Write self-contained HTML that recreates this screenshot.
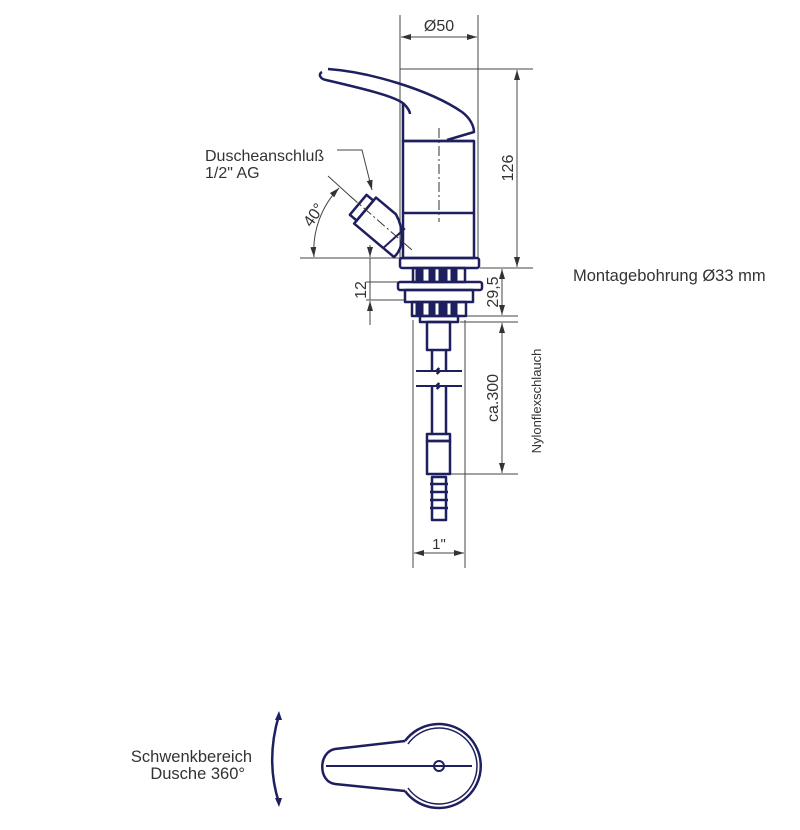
<!DOCTYPE html>
<html><head><meta charset="utf-8"><style>
html,body{margin:0;padding:0;background:#fff;}
svg{display:block;}
text{font-family:"Liberation Sans",sans-serif;fill:#333;}
</style></head><body>
<svg width="800" height="830" viewBox="0 0 800 830" xmlns="http://www.w3.org/2000/svg">
<defs>
<marker id="a" viewBox="0 0 10 6" refX="10" refY="3" markerWidth="10" markerHeight="6" orient="auto-start-reverse" markerUnits="userSpaceOnUse"><path d="M0,0 L10,3 L0,6 z" fill="#333"/></marker>
</defs>
<g stroke="#444" stroke-width="1" fill="none">
<line x1="400" y1="15" x2="400" y2="258"/><line x1="478" y1="15" x2="478" y2="258"/>
<line x1="401" y1="37" x2="477" y2="37" marker-start="url(#a)" marker-end="url(#a)"/>
<line x1="400" y1="69" x2="533" y2="69"/><line x1="480" y1="268" x2="533" y2="268"/>
<line x1="517" y1="70" x2="517" y2="267" marker-start="url(#a)" marker-end="url(#a)"/>
<line x1="466" y1="316" x2="518" y2="316"/><line x1="460" y1="322" x2="518" y2="322"/>
<line x1="502" y1="269" x2="502" y2="315" marker-start="url(#a)" marker-end="url(#a)"/>
<line x1="502" y1="323" x2="502" y2="473" marker-start="url(#a)" marker-end="url(#a)"/>
<line x1="450" y1="474" x2="518" y2="474"/>
<line x1="300" y1="258" x2="400" y2="258"/>
<line x1="366" y1="282" x2="400" y2="282"/><line x1="366" y1="300" x2="405" y2="300"/>
<line x1="370" y1="245" x2="370" y2="257" marker-end="url(#a)"/>
<line x1="370" y1="301" x2="370" y2="325" marker-start="url(#a)"/>
<line x1="370" y1="258" x2="370" y2="300"/>
<line x1="413" y1="320" x2="413" y2="568"/><line x1="465" y1="320" x2="465" y2="568"/>
<line x1="414" y1="553" x2="464" y2="553" marker-start="url(#a)" marker-end="url(#a)"/>
<line x1="328" y1="176" x2="350" y2="196"/>
<path d="M314,257 A90,90 0 0 1 339,188" marker-start="url(#a)" marker-end="url(#a)"/>
<polyline points="337,150 362,150 372,190" marker-end="url(#a)"/>
</g>
<g stroke="#1e1f5e" stroke-width="2.5" fill="none" stroke-linejoin="round">
<path d="M328,69 C370,72 430,90 462,112 C470,118 474,126 474,132 L447,140"/>
<path d="M322,72 C318,74 320,79 326,80 C360,88 395,96 404,104 C408,108 410,112 410,114"/>
<path d="M403,104 L403,141 L474,141"/>
<rect x="403" y="141" width="71" height="117"/>
<line x1="403" y1="213" x2="474" y2="213"/>
<rect x="400" y="258" width="79" height="10" rx="2"/>
<rect x="413" y="268" width="52" height="14"/>
<rect x="398" y="282" width="84" height="8" rx="2"/>
<rect x="405" y="290" width="68" height="12"/>
<rect x="412" y="302" width="54" height="14"/>
<rect x="420" y="316" width="38" height="6"/>
<rect x="427" y="322" width="23" height="28"/>
<line x1="432" y1="350" x2="432" y2="434"/><line x1="446" y1="350" x2="446" y2="434"/>
<rect x="427" y="434" width="23" height="7"/>
<rect x="427" y="441" width="23" height="33"/>
<path d="M432,477 h14 v43 h-14 z M430,484 h18 M430,492 h18 M430,500 h18 M430,508 h18"/>
<g transform="translate(362,208) rotate(40)">
<rect x="-5" y="-13" width="9" height="26"/>
<path d="M4,-17 L30,-17 C48,-10 58,5 56,17 L4,17 Z"/>
<line x1="46" y1="-12" x2="42" y2="17" stroke-width="2"/>
</g>
</g>
<g stroke="#1e1f5e" stroke-width="3" fill="#1e1f5e">
<rect x="417" y="270" width="5" height="11"/><rect x="430" y="270" width="4" height="11"/><rect x="440" y="270" width="6" height="11"/><rect x="452" y="270" width="4" height="11"/>
<rect x="417" y="304" width="5" height="11"/><rect x="430" y="304" width="4" height="11"/><rect x="440" y="304" width="6" height="11"/><rect x="452" y="304" width="4" height="11"/>
</g>
<g stroke="#fff" stroke-width="14" fill="none"><line x1="426" y1="378" x2="452" y2="378"/></g>
<g stroke="#1e1f5e" stroke-width="2" fill="none">
<path d="M416,371 H436 l3,-3 l-2,6 l3,-3 H462"/>
<path d="M416,386 H436 l3,-3 l-2,6 l3,-3 H462"/>
</g>
<g stroke="#333" stroke-width="1" fill="none" stroke-dasharray="10,3,2,3">
<line x1="439" y1="128" x2="439" y2="222"/>
<line x1="350" y1="196" x2="412" y2="250"/>
</g>
<text x="205" y="161" font-size="16">Duscheanschluß</text>
<text x="205" y="178" font-size="16">1/2" AG</text>
<text x="573" y="281" font-size="16.5">Montagebohrung Ø33 mm</text>
<text x="439" y="31" font-size="16" text-anchor="middle">Ø50</text>
<text font-size="16" transform="translate(513,168) rotate(-90)" text-anchor="middle">126</text>
<text font-size="16" transform="translate(498,292) rotate(-90)" text-anchor="middle">29,5</text>
<text font-size="16" transform="translate(498,398) rotate(-90)" text-anchor="middle">ca.300</text>
<text font-size="16" transform="translate(366,290) rotate(-90)" text-anchor="middle">12</text>
<text font-size="16" transform="translate(318,218) rotate(-55)" text-anchor="middle">40°</text>
<text font-size="13" transform="translate(541,401) rotate(-90)" text-anchor="middle">Nylonflexschlauch</text>
<text x="439" y="549" font-size="15" text-anchor="middle">1"</text>
<text x="252" y="762" font-size="16.5" text-anchor="end">Schwenkbereich</text>
<text x="245" y="779" font-size="16.5" text-anchor="end">Dusche 360°</text>
<g stroke="#1e1f5e" stroke-width="2.5" fill="none">
<path d="M279,715 C270,745 270,775 279,803"/>
<path d="M405,741 A42,42 0 1 1 405,791"/>
<path d="M408,744 A38,38 0 1 1 408,788" stroke-width="1.5"/>
<path d="M405,741 L335,749 C318,752 318,782 335,784 L405,791"/>
<line x1="326" y1="766" x2="472" y2="766" stroke-width="2"/>
<circle cx="439" cy="766" r="5" stroke-width="2"/>
</g>
<path d="M279,711 l-4,9 l7,0 z M279,807 l-4,-9 l7,0 z" fill="#1e1f5e"/>
</svg>
</body></html>
